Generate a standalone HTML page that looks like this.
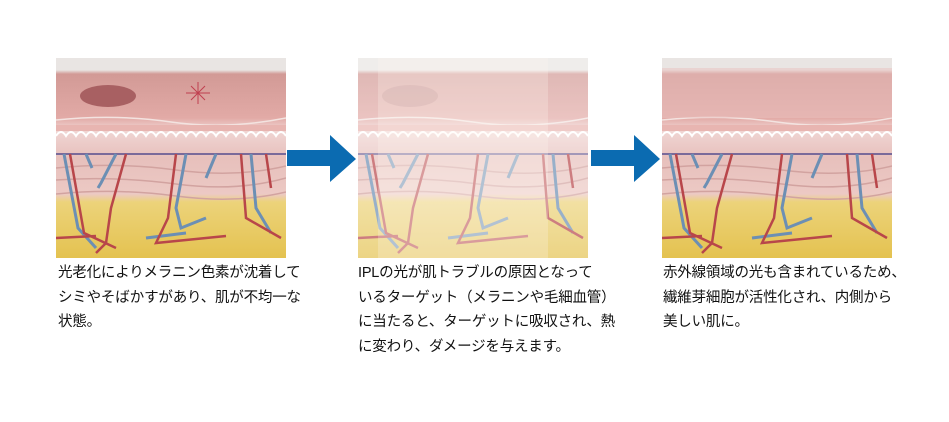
<!DOCTYPE html>
<html><head><meta charset="utf-8"><style>
body{margin:0;width:949px;height:422px;background:#fff;position:relative;overflow:hidden;font-family:"Liberation Sans","Noto Sans CJK JP",sans-serif}
svg.p{position:absolute;top:58px;width:230px;height:200px}
.t{position:absolute;top:261px;font-size:14.5px;line-height:24.5px;color:#111;white-space:nowrap;letter-spacing:-0.2px}
.arr{position:absolute}
</style></head><body>
<svg width="0" height="0" style="position:absolute"><defs>
<linearGradient id="g" x1="0" y1="0" x2="0" y2="1">
<stop offset="0" stop-color="#e9e5e3"/><stop offset="0.06" stop-color="#e9e5e3"/>
<stop offset="0.08" stop-color="#d29a96"/><stop offset="0.3" stop-color="#e2aaa6"/>
<stop offset="0.36" stop-color="#f0d6d4"/><stop offset="0.5" stop-color="#e7c0bc"/>
<stop offset="0.68" stop-color="#ecc9c4"/><stop offset="0.72" stop-color="#ecd37a"/>
<stop offset="1" stop-color="#e4c250"/></linearGradient>
<g id="skin">
<rect width="230" height="200" fill="url(#g)"/>
<path d="M0 62 Q60 56 115 64 T230 60" stroke="#f3e3e0" stroke-width="1.5" fill="none"/>
<path d="M0 70 L230 70" stroke="#e8b5b1" stroke-width="6" fill="none"/>
<path d="M0 78 q5 -8 10 0 q5 -8 10 0 q5 -8 10 0 q5 -8 10 0 q5 -8 10 0 q5 -8 10 0 q5 -8 10 0 q5 -8 10 0 q5 -8 10 0 q5 -8 10 0 q5 -8 10 0 q5 -8 10 0 q5 -8 10 0 q5 -8 10 0 q5 -8 10 0 q5 -8 10 0 q5 -8 10 0 q5 -8 10 0 q5 -8 10 0 q5 -8 10 0 q5 -8 10 0 q5 -8 10 0 q5 -8 10 0" stroke="#fff" stroke-width="2" fill="none"/>
<path d="M0 96 L230 96" stroke="#7a6a9a" stroke-width="2"/>
<g stroke="#d2a3a0" stroke-width="1.5" fill="none">
<path d="M0 110 Q60 104 120 112 T230 108"/><path d="M0 122 Q60 118 120 126 T230 120"/><path d="M0 136 Q60 130 120 138 T230 134"/></g>
<g stroke="#6c8fb4" stroke-width="3" fill="none">
<path d="M8 96 L22 170 L40 190"/><path d="M60 96 L45 125 L42 130"/><path d="M130 96 L120 150 L125 170 L150 160"/><path d="M195 96 L200 150 L215 175"/><path d="M90 180 L130 175"/><path d="M160 96 L150 120"/><path d="M30 96 L36 110"/></g>
<g stroke="#b8464a" stroke-width="2.5" fill="none">
<path d="M14 96 L28 175 L60 190"/><path d="M70 96 L55 150 L50 185 L40 195"/><path d="M120 96 L112 160 L100 185 L170 178"/><path d="M185 96 L190 160 L225 180"/><path d="M0 180 L40 178"/><path d="M210 96 L215 130"/></g>
</g></defs></svg>

<svg class="p" style="left:56px" viewBox="0 0 230 200"><use href="#skin"/><ellipse cx="52" cy="38" rx="28" ry="11" fill="#a86062"/><g stroke="#c04050" stroke-width="1"><path d="M135 28 l14 14 M149 28 l-14 14 M142 24 v22 M130 35 h24"/></g></svg>
<svg class="arr" style="left:287px;top:135px" width="70" height="48"><path d="M0 15 H43 V0 L69 24 L43 47 V31 H0 Z" fill="#0b6bb1"/></svg>
<svg class="p" style="left:358px" viewBox="0 0 230 200"><use href="#skin"/><ellipse cx="52" cy="38" rx="28" ry="11" fill="#b98080" opacity="0.6"/><rect x="0" y="0" width="230" height="200" fill="#fff" opacity="0.3"/><rect x="20" y="0" width="170" height="200" fill="#fff8f0" opacity="0.25"/></svg>
<svg class="arr" style="left:591px;top:135px" width="70" height="48"><path d="M0 15 H43 V0 L69 24 L43 47 V31 H0 Z" fill="#0b6bb1"/></svg>
<svg class="p" style="left:662px" viewBox="0 0 230 200"><use href="#skin"/><rect x="0" y="10" width="230" height="50" fill="#eac2bf" opacity="0.5"/></svg>

<div class="t" style="left:58px">光老化によりメラニン色素が沈着して<br>シミやそばかすがあり、肌が不均一な<br>状態。</div>
<div class="t" style="left:358px">IPLの光が肌トラブルの原因となって<br>いるターゲット（メラニンや毛細血管）<br>に当たると、ターゲットに吸収され、熱<br>に変わり、ダメージを与えます。</div>
<div class="t" style="left:663px">赤外線領域の光も含まれているため、<br>繊維芽細胞が活性化され、内側から<br>美しい肌に。</div>
</body></html>
